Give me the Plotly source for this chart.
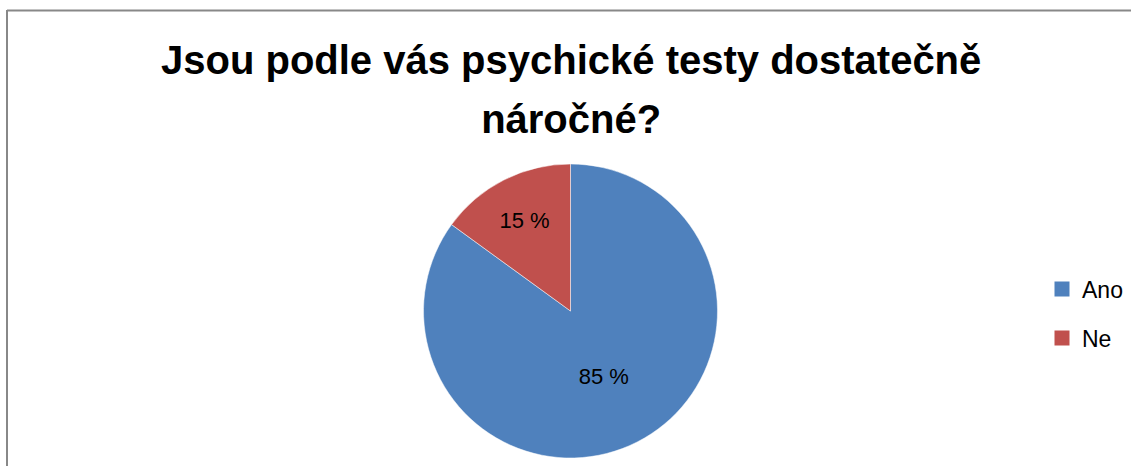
import plotly.graph_objects as go

labels = ["Ano", "Ne"]
values = [85, 15]
colors = ["#4F81BD", "#C0504D"]
title_lines = ["Jsou podle vás psychické testy dostatečně", "náročné?"]

W, H = 1131, 466

fig = go.Figure()

fig.add_trace(go.Pie(
    labels=labels,
    values=values,
    sort=False,
    direction="clockwise",
    rotation=0,
    marker=dict(colors=colors, line=dict(color="white", width=0.5)),
    texttemplate="%{value} %",
    textposition="inside",
    insidetextorientation="horizontal",
    textfont=dict(family="Liberation Sans", size=22, color="black"),
    domain=dict(x=[423 / W, 718 / W], y=[1 - 458 / H, 1 - 164 / H]),
    hoverinfo="label+percent",
    showlegend=False,
))

# legend entries: one legend per category so the spacing can match
legend_names = ["legend", "legend2"]
for name, color, leg in zip(labels, colors, legend_names):
    fig.add_trace(go.Scatter(
        x=[None], y=[None], mode="markers", name=name, legend=leg,
        marker=dict(symbol="square", size=15, color=color),
        hoverinfo="skip",
    ))

# chart area border (only left and top edges are inside the crop)
border = dict(color="#888888", width=2)
fig.add_shape(type="line", xref="paper", yref="paper",
              x0=7 / W, x1=7 / W, y0=0, y1=1 - 10 / H, line=border, layer="below")
fig.add_shape(type="line", xref="paper", yref="paper",
              x0=7 / W, x1=1, y0=1 - 10.5 / H, y1=1 - 10.5 / H, line=border, layer="below")

title_text = "<br>".join(f"<span style='font-size:40px'>{t}</span>" for t in title_lines)

legend_font = dict(family="Liberation Sans", size=23, color="black")
fig.update_layout(
    width=W, height=H,
    margin=dict(l=0, r=0, t=0, b=0),
    paper_bgcolor="white",
    plot_bgcolor="white",
    title=dict(text=title_text, x=0.505, xanchor="center", y=1 - 74 / H, yanchor="top",
               font=dict(family="Liberation Sans", size=45, color="black", weight="bold")),
    xaxis=dict(visible=False),
    yaxis=dict(visible=False),
    legend=dict(x=1042 / W, y=1 - 289 / H, xanchor="left", yanchor="middle",
                font=legend_font, bgcolor="rgba(0,0,0,0)"),
    legend2=dict(x=1042 / W, y=1 - 338 / H, xanchor="left", yanchor="middle",
                 font=legend_font, bgcolor="rgba(0,0,0,0)"),
)

fig.write_html("out.html", config={"displayModeBar": False},
               post_script="document.body.style.margin='0px';")
